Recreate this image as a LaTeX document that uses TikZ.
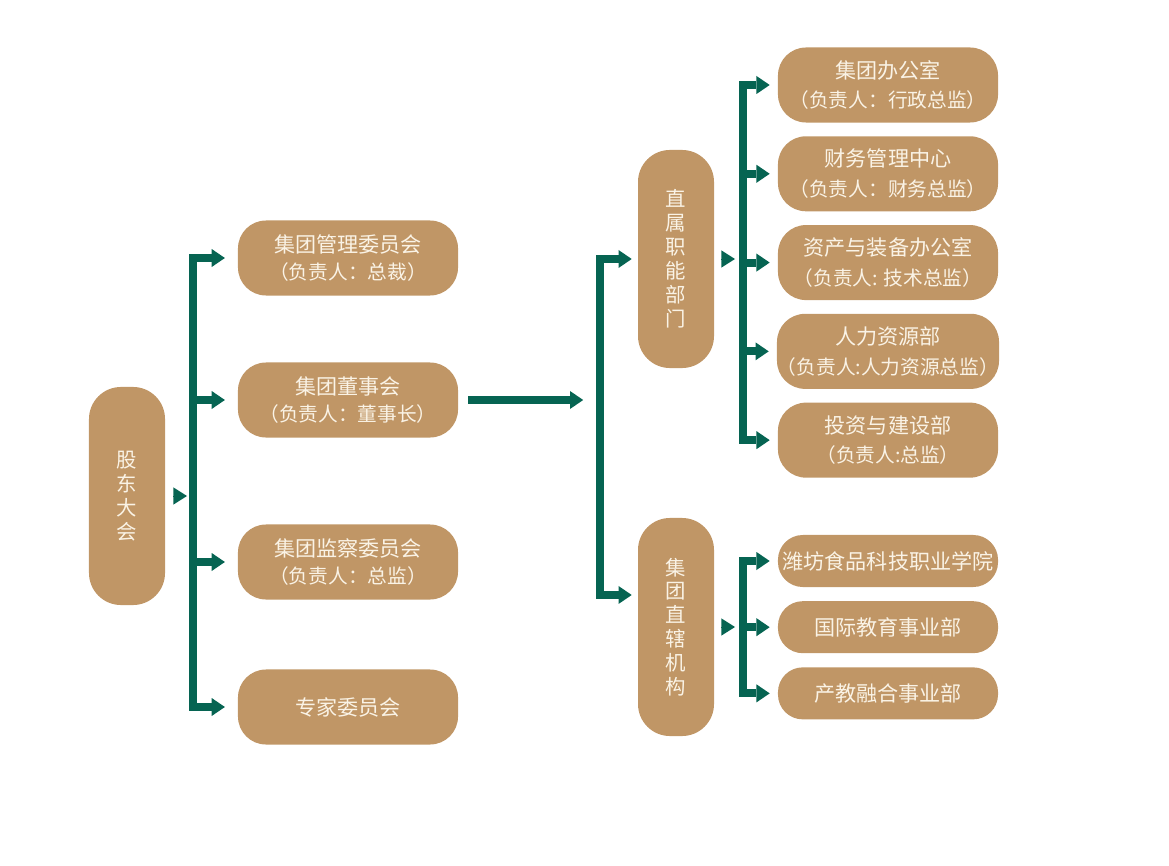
\documentclass[tikz,border=0pt]{standalone}
\usepackage{fontspec}
\setmainfont{Noto Sans CJK SC}
\usetikzlibrary{positioning,arrows.meta,calc}
\definecolor{boxtan}{RGB}{192,150,102}
\definecolor{txtcream}{RGB}{250,243,230}
\definecolor{bargreen}{RGB}{6,100,82}
\newcommand\fzl{\fontsize{14pt}{19pt}\selectfont}
\newcommand\fzr{\fontsize{14pt}{21pt}\selectfont}
\tikzset{
  bus/.style={draw=bargreen,line width=0.2cm,line cap=rect},
  arr/.style={draw=bargreen,line width=0.2cm,-{Triangle[length=0.33cm,width=0.45cm,line width=0pt]}},
}

\begin{document}
\begin{tikzpicture}[x=0.025cm,y=-0.025cm,
   box/.style={rounded corners=0.7cm,fill=boxtan,text=txtcream,minimum width=5.5cm,minimum height=1.875cm,
     align=center,inner sep=0pt,font=\fontsize{15pt}{19pt}\selectfont},
   rbox/.style={box,font=\fontsize{15pt}{21pt}\selectfont},
   sbox/.style={box,minimum height=1.3cm,rounded corners=0.62cm},
   vbox/.style={box,rounded corners=0.8cm,minimum width=1.9cm,minimum height=5.45cm,text width=0.6cm,
     font=\fontsize{14.5pt}{17pt}\selectfont},
   tri/.style={draw=bargreen,line width=0.5pt,-{Triangle[length=0.34cm,width=0.43cm,line width=0pt]}}]
\useasboundingbox (0,0) rectangle (1169,866);
% gudong dahui
\node[vbox] (gd) at (127,496) {股\\东\\大\\会};
\node[box] (glw) at (348,258) {集团管理委员会\\\fzl（负责人：总裁）};
\node[box] (dsh) at (348,400) {集团董事会\\\fzl（负责人：董事长）};
\node[box] (jcw) at (348,562) {集团监察委员会\\\fzl（负责人：总监）};
\node[box] (zjw) at (348,707) {专家委员会};
\coordinate (bl) at (193,496);
\draw[tri,shorten <=0.21cm,shorten >=0.15cm] (gd.east) -- (bl |- gd);
\draw[bus] (bl |- glw) -- (bl |- zjw);
\foreach \n in {glw,dsh,jcw,zjw}
  \draw[arr,shorten >=0.32cm] (bl |- \n) -- (\n.west);
% dongshihui
\node[vbox] (zs) at (676,259) {直\\属\\职\\能\\部\\门};
\node[vbox] (zx) at (676,627) {集\\团\\直\\辖\\机\\构};
\coordinate (bm) at (600,400);
\coordinate (zxin) at ([yshift=0.8cm]zx.west);
\draw[arr,shorten <=0.25cm,shorten >=0.42cm] (dsh.east) -- (bm |- dsh);
\draw[bus] (bm |- zs) -- (bm |- zxin);
\draw[arr,shorten >=0.15cm] (bm |- zs) -- (zs.west);
\draw[arr,shorten >=0.15cm] (bm |- zxin) -- (zxin);
% zhishu zhineng bumen
\node[rbox] (bgs) at (888,85) {集团办公室\\\fzr（负责人：行政总监）};
\node[rbox] (cw) [below=0.33cm of bgs] {财务管理中心\\\fzr（负责人：财务总监）};
\node[rbox] (zc) [below=0.33cm of cw] {资产与装备办公室\\\fzr（负责人: 技术总监）};
\node[rbox] (rl) [below=0.33cm of zc] {人力资源部\\\fzr（负责人:人力资源总监）};
\node[rbox] (tz) [below=0.33cm of rl] {投资与建设部\\\fzr（负责人:总监）};
\coordinate (br) at (743,0);
\draw[tri,shorten <=0.2cm,shorten >=0.2cm] (zs.east) -- (br |- zs);
\draw[bus] (br |- bgs) -- (br |- tz);
\foreach \n in {bgs,cw,zc,rl,tz}
  \draw[arr,shorten >=0.2cm] (br |- \n) -- (\n.west);
% zhixia jigou
\node[sbox] (xy) at (888,561) {潍坊食品科技职业学院};
\node[sbox] (gj) [below=0.34cm of xy] {国际教育事业部};
\node[sbox] (cj) [below=0.34cm of gj] {产教融合事业部};
\draw[tri,shorten <=0.2cm,shorten >=0.2cm] (zx.east) -- (br |- zx);
\draw[bus] (br |- xy) -- (br |- cj);
\foreach \n in {xy,gj,cj}
  \draw[arr,shorten >=0.2cm] (br |- \n) -- (\n.west);
\end{tikzpicture}
\end{document}
